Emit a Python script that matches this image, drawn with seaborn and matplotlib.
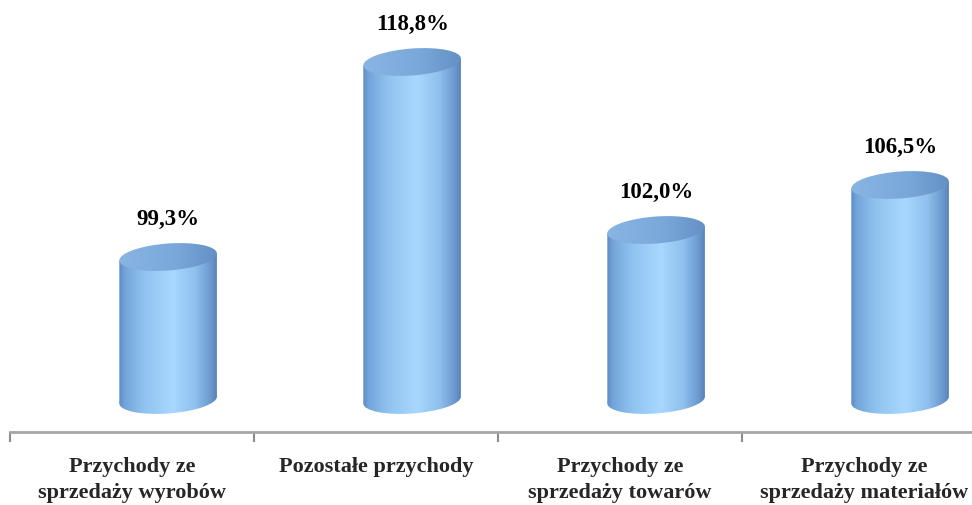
import numpy as np
import pandas as pd
import matplotlib
matplotlib.use("Agg")
import matplotlib.pyplot as plt
import seaborn as sns
from matplotlib.patches import Ellipse, Polygon
from matplotlib.colors import LinearSegmentedColormap
from matplotlib.transforms import Affine2D

categories = [
    "Przychody ze\nsprzedaży wyrobów",
    "Pozostałe przychody",
    "Przychody ze\nsprzedaży towarów",
    "Przychody ze\nsprzedaży materiałów",
]
values = [99.3, 118.8, 102.0, 106.5]
value_labels = ["99,3%", "118,8%", "102,0%", "106,5%"]

FLOOR = 85.0      # value where the cylinders stand
DEPTH = 0.148     # cylinders sit slightly behind their category slots
BAR_W = 0.40      # cylinder width in category units
CAP_H = 2.7       # ellipse height in value units
TILT = 1.7        # perspective rise of the rims (value units per category unit)

sns.set_theme(style="white")
plt.rcParams["font.family"] = ["Liberation Serif", "DejaVu Serif"]

body_cmap = LinearSegmentedColormap.from_list(
    "body",
    [(0.0, "#5c8cc4"), (0.06, "#74a5da"), (0.25, "#90c2f0"),
     (0.55, "#a8d8fe"), (0.78, "#8fc0ee"), (0.93, "#6d9bd0"), (1.0, "#5a83b8")],
)
cap_cmap = LinearSegmentedColormap.from_list(
    "cap", [(0.0, "#88b5e3"), (0.6, "#79a7d9"), (1.0, "#6490c5")]
)
grad = np.linspace(0, 1, 256).reshape(1, -1)

fig = plt.figure(figsize=(9.72, 5.06), dpi=100)
ax = fig.add_axes([10 / 972, 73 / 506, 1 - 10 / 972, 433 / 506])

df = pd.DataFrame({"cat": categories, "val": values})
sns.barplot(data=df, x="cat", y="val", ax=ax, width=BAR_W, color="#a8d8fe")


def tilted(xc, yc):
    """Shear around (xc, yc) so rims rise toward the right."""
    return (Affine2D().translate(-xc, -yc).skew(0, np.arctan(TILT))
            .translate(xc, yc) + ax.transData)


rise = TILT * BAR_W / 2
for patch, val, lbl in zip(ax.patches, values, value_labels):
    x0 = patch.get_x()
    w = patch.get_width()
    x1 = x0 + w
    xc = x0 + w / 2
    patch.set_visible(False)

    # bottom rim
    bottom = Ellipse((xc, FLOOR), w, CAP_H, facecolor="none", edgecolor="none",
                     transform=tilted(xc, FLOOR))
    ax.add_patch(bottom)
    im = ax.imshow(grad, extent=(x0, x1, FLOOR - CAP_H - rise, FLOOR + rise),
                   aspect="auto", cmap=body_cmap, interpolation="bicubic", zorder=2)
    im.set_clip_path(bottom)

    # body
    side = Polygon([(x0, FLOOR - rise), (x1, FLOOR + rise),
                    (x1, val + rise), (x0, val - rise)],
                   closed=True, facecolor="none", edgecolor="none")
    ax.add_patch(side)
    im_b = ax.imshow(grad, extent=(x0, x1, FLOOR - rise, val + rise), aspect="auto",
                     cmap=body_cmap, interpolation="bicubic", zorder=2)
    im_b.set_clip_path(side)

    # top cap
    top = Ellipse((xc, val), w, CAP_H, facecolor="none", edgecolor="none",
                  transform=tilted(xc, val))
    ax.add_patch(top)
    im_t = ax.imshow(grad, extent=(x0, x1, val - CAP_H / 2 - rise, val + CAP_H / 2 + rise),
                     aspect="auto", cmap=cap_cmap, interpolation="bicubic", zorder=3)
    im_t.set_clip_path(top)

    ax.annotate(lbl, (xc, val), xytext=(0, 28), textcoords="offset points",
                ha="center", va="center", fontsize=16.5, fontweight="bold",
                color="black")

n = len(categories)
ax.set_xticks(np.arange(n + 1) - 0.5 - DEPTH)
ax.set_xticklabels([])
ax.set_xticks(np.arange(n) - DEPTH, minor=True)
ax.set_xticklabels(categories, minor=True, fontsize=16, fontweight="bold",
                   linespacing=1.4)
ax.tick_params(axis="x", which="major", direction="out", length=7, width=1.5,
               color="#8c8c8c", bottom=True)
ax.tick_params(axis="x", which="minor", length=0, pad=17)
ax.set_yticks([])
ax.set_xlabel("")
ax.set_ylabel("")

ax.set_xlim(-0.5 - DEPTH, -0.5 - DEPTH + 962 / 244)
ax.set_ylim(FLOOR - 3.2, FLOOR + 40.1)

for s in ("left", "top", "right"):
    ax.spines[s].set_visible(False)
ax.spines["bottom"].set_color("#a6a6a6")
ax.spines["bottom"].set_linewidth(2)

fig.savefig("out.png", dpi=100)
